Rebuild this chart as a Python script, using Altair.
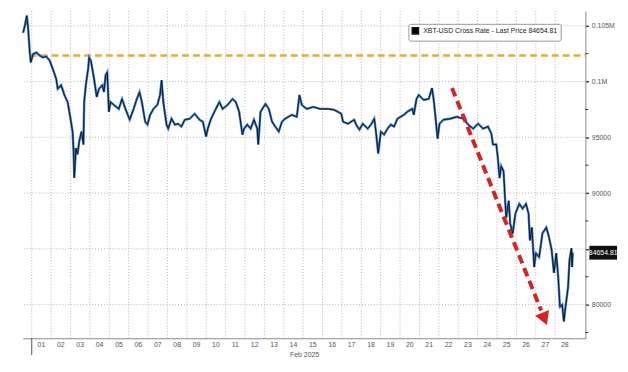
import altair as alt
import pandas as pd

# ---- data (day offset from Feb 1 00:00, price in USD) ----
days = [-0.444, -0.357, -0.255, -0.189, -0.102, -0.051, 0.066, 0.240, 0.408, 0.577,
        0.750, 0.918, 1.087, 1.260, 1.342, 1.515, 1.684, 1.852, 1.939, 2.026,
        2.107, 2.158, 2.194, 2.281, 2.362, 2.449, 2.566, 2.668, 2.704, 2.791,
        2.908, 2.959, 3.046, 3.128, 3.214, 3.352, 3.469, 3.638, 3.724, 3.811,
        3.893, 3.980, 4.066, 4.235, 4.490, 4.658, 4.832, 5.051, 5.255, 5.423,
        5.561, 5.679, 5.852, 5.969, 6.107, 6.276, 6.480, 6.617, 6.699, 6.786,
        6.954, 7.041, 7.209, 7.383, 7.551, 7.719, 7.893, 8.148, 8.403, 8.658,
        8.827, 8.995, 9.082, 9.250, 9.423, 9.679, 9.847, 10.102, 10.357, 10.526,
        10.699, 10.867, 10.954, 11.122, 11.291, 11.464, 11.633, 11.684, 11.801, 12.056,
        12.230, 12.398, 12.566, 12.740, 12.908, 13.077, 13.418, 13.673, 13.811, 13.929,
        14.184, 14.526, 14.862, 15.291, 15.612, 15.969, 16.056, 16.311, 16.633, 16.735,
        16.903, 17.077, 17.332, 17.500, 17.668, 17.755, 17.872, 18.010, 18.179, 18.352,
        18.520, 18.689, 18.862, 19.199, 19.372, 19.628, 19.709, 19.847, 19.964, 20.219,
        20.474, 20.648, 20.730, 20.816, 20.934, 21.036, 21.240, 21.582, 21.923, 22.260,
        22.515, 22.770, 23.026, 23.281, 23.536, 23.709, 23.791, 23.964, 24.046, 24.133,
        24.219, 24.337, 24.388, 24.400, 24.474, 24.607, 24.679, 24.811, 24.949, 25.153,
        25.321, 25.495, 25.628, 25.699, 25.801, 25.918, 26.005, 26.173, 26.260, 26.342,
        26.546, 26.684, 26.821, 26.939, 27.056, 27.158, 27.245, 27.362, 27.449, 27.536,
        27.668, 27.740, 27.842, 27.872, 27.908]

prices = [104380, 105000, 105910, 104820, 102610, 101720, 102460, 102610, 102340, 102160,
          102250, 101900, 101130, 100240, 99350, 99680, 98800, 98170, 97290, 96400,
          95510, 93740, 91370, 94030, 93480, 94630, 95510, 94360, 98170, 99680,
          101130, 102160, 101900, 101130, 100240, 98620, 99350, 99680, 99060, 100570,
          100830, 97290, 98170, 97910, 97550, 98440, 97550, 96580, 97550, 98440,
          99060, 98170, 96400, 96140, 97020, 97550, 97910, 98800, 100120, 98170,
          96140, 95780, 96670, 96140, 96220, 95960, 96580, 96670, 97110, 96580,
          96400, 95070, 95780, 96670, 97290, 98170, 97550, 97910, 98440, 98170,
          97290, 95250, 95780, 96140, 95780, 96580, 95780, 94360, 97290, 98000,
          97550, 96400, 95960, 95510, 96400, 96670, 97020, 96840, 98800, 97910,
          97550, 97730, 97550, 97550, 97460, 97110, 96400, 96220, 96580, 96140,
          95690, 96220, 95780, 96140, 96670, 95510, 93560, 95510, 95250, 95780,
          96140, 95960, 96670, 97020, 97290, 97550, 97020, 98440, 98800, 98350,
          98440, 99420, 98440, 97020, 94890, 96220, 96580, 96670, 96840, 96670,
          96140, 95780, 96220, 95780, 95960, 95340, 94360, 94360, 93120, 91350,
          92410, 91970, 90460, 89930, 87800, 89310, 87270, 86380, 88160, 89040,
          88600, 89040, 88160, 85760, 86920, 83370, 84610, 84260, 85320, 86380,
          86920, 86030, 84880, 82840, 84610, 82480, 79820, 80000, 78490, 79820,
          81600, 83990, 85050, 83370, 84654.81]

series_name = "XBT-USD Cross Rate - Last Price 84654.81"
last_price = [84654.81]
last_label = ["84654.81"]

day_grid = list(range(0, 28))
day_label_pos = [d + 0.5 for d in range(28)]
day_labels = ["%02d" % (d + 1) for d in range(28)]
month_tick = [0]
y_major = [80000, 85000, 90000, 95000, 100000, 105000]
y_minor = [77500, 82500, 87500, 92500, 97500, 102500]
x_domain = [-0.46, 28.56]
y_domain = [76986, 106330]

ref_level = [102340]
ref_start = [-0.1]
arrow_from = [21.68, 99415]
arrow_to = [26.28, 79470]
arrow_head = [26.45, 78720]

FONT = "Liberation Sans"
W, H = 569, 331
GRID = "#b4b4b4"

df = pd.DataFrame({"day": days, "price": prices, "series": series_name})
ref_df = pd.DataFrame({"x1": ref_start, "x2": [x_domain[1]], "y": ref_level})
arrow_df = pd.DataFrame({"x1": [arrow_from[0]], "y1": [arrow_from[1]],
                         "x2": [arrow_to[0]], "y2": [arrow_to[1]]})
head_df = pd.DataFrame({"x": [arrow_head[0]], "y": [arrow_head[1]]})
tag_df = pd.DataFrame({"price": last_price, "label": last_label})
vgrid_df = pd.DataFrame({"day": day_grid})
hgrid_df = pd.DataFrame({"price": y_major})
minor_df = pd.DataFrame({"price": y_minor})
month_df = pd.DataFrame({"day": month_tick})
dlab_df = pd.DataFrame({"day": day_label_pos, "label": day_labels})

xs = alt.Scale(domain=x_domain, nice=False, zero=False)
ys = alt.Scale(domain=y_domain, nice=False, zero=False)

x_axis = alt.Axis(values=day_label_pos, ticks=False, grid=False, domain=True,
                  domainColor="#8a8a8a", labels=False,
                  title="Feb 2025", titlePadding=12)
y_axis = alt.Axis(orient="right", values=y_major, grid=False, labelOverlap=False,
                  tickSize=3, tickColor="#333", tickWidth=1.5,
                  domain=True, domainColor="#8a8a8a", labelPadding=3,
                  labelExpr="datum.value == 85000 ? '' : (datum.value >= 100000 ? format(datum.value / 1000000, '') + 'M' : format(datum.value, 'd'))",
                  title=None)

vgrid = alt.Chart(vgrid_df).mark_rule(color=GRID, strokeWidth=1, strokeDash=[1, 2]).encode(
    x=alt.X("day:Q", scale=xs, axis=x_axis),
)
hgrid = alt.Chart(hgrid_df).mark_rule(color=GRID, strokeWidth=1, strokeDash=[1, 2]).encode(
    y=alt.Y("price:Q", scale=ys, axis=y_axis),
)
minor_ticks = alt.Chart(minor_df).mark_rule(color="#333", strokeWidth=1).encode(
    y=alt.Y("price:Q", scale=ys),
    x=alt.value(W),
    x2=alt.value(W + 3),
)
month_mark = alt.Chart(month_df).mark_rule(color="#555", strokeWidth=1).encode(
    x=alt.X("day:Q", scale=xs),
    y=alt.value(H),
    y2=alt.value(H + 17),
)
day_text = alt.Chart(dlab_df).mark_text(font=FONT, fontSize=7, color="#555",
                                        align="center", baseline="top").encode(
    x=alt.X("day:Q", scale=xs),
    y=alt.value(H + 3),
    text="label:N",
)

ref_rule = alt.Chart(ref_df).mark_rule(color="#f0a830", strokeWidth=2.5, strokeDash=[7, 4]).encode(
    x=alt.X("x1:Q", scale=xs),
    x2="x2:Q",
    y=alt.Y("y:Q", scale=ys),
)

blue_line = alt.Chart(df).mark_line(color="#3d7cc6", strokeWidth=2.4).encode(
    x=alt.X("day:Q", scale=xs),
    y=alt.Y("price:Q", scale=ys),
)

dark_line = alt.Chart(df).mark_line(strokeWidth=1.0).encode(
    x=alt.X("day:Q", scale=xs),
    y=alt.Y("price:Q", scale=ys),
    color=alt.Color("series:N", scale=alt.Scale(range=["#0e1626"]),
                    legend=alt.Legend(orient="none", legendX=390, legendY=13, title=None,
                                      symbolType="square", symbolFillColor="black",
                                      symbolStrokeColor="black", symbolSize=40,
                                      labelFont=FONT, labelFontSize=7, labelColor="#222",
                                      fillColor="white", strokeColor="#9a9a9a",
                                      padding=3, cornerRadius=2)),
)

arrow_rule = alt.Chart(arrow_df).mark_rule(color="#d42424", strokeWidth=4, strokeDash=[9, 5]).encode(
    x=alt.X("x1:Q", scale=xs),
    x2="x2:Q",
    y=alt.Y("y1:Q", scale=ys),
    y2="y2:Q",
)

arrow_tip = alt.Chart(head_df).mark_point(shape="triangle-right", angle=68, size=230,
                                          filled=True, color="#d42424", opacity=1).encode(
    x=alt.X("x:Q", scale=xs),
    y=alt.Y("y:Q", scale=ys),
)

tag_box = alt.Chart(tag_df).mark_point(shape="M-1,-0.5H1V0.5H-1Z", size=784, filled=True,
                                       color="#111111", opacity=1).encode(
    x=alt.value(W + 18),
    y=alt.Y("price:Q", scale=ys),
)

tag_text = alt.Chart(tag_df).mark_text(color="white", fontSize=7, font=FONT,
                                       align="center", baseline="middle").encode(
    x=alt.value(W + 18),
    y=alt.Y("price:Q", scale=ys),
    text="label:N",
)

chart = alt.layer(vgrid, hgrid, minor_ticks, month_mark, day_text, ref_rule, blue_line, dark_line,
                  arrow_rule, arrow_tip, tag_box, tag_text).properties(
    width=W, height=H,
    padding={"left": 10, "top": 0, "right": 2, "bottom": 2},
    background="white",
).configure_view(stroke=None).configure_axis(
    labelFont=FONT, labelFontSize=7, labelColor="#555",
    titleFont=FONT, titleFontSize=7, titleFontWeight="normal", titleColor="#555",
)

chart.save("out.html", embed_options={"renderer": "svg", "actions": False})
